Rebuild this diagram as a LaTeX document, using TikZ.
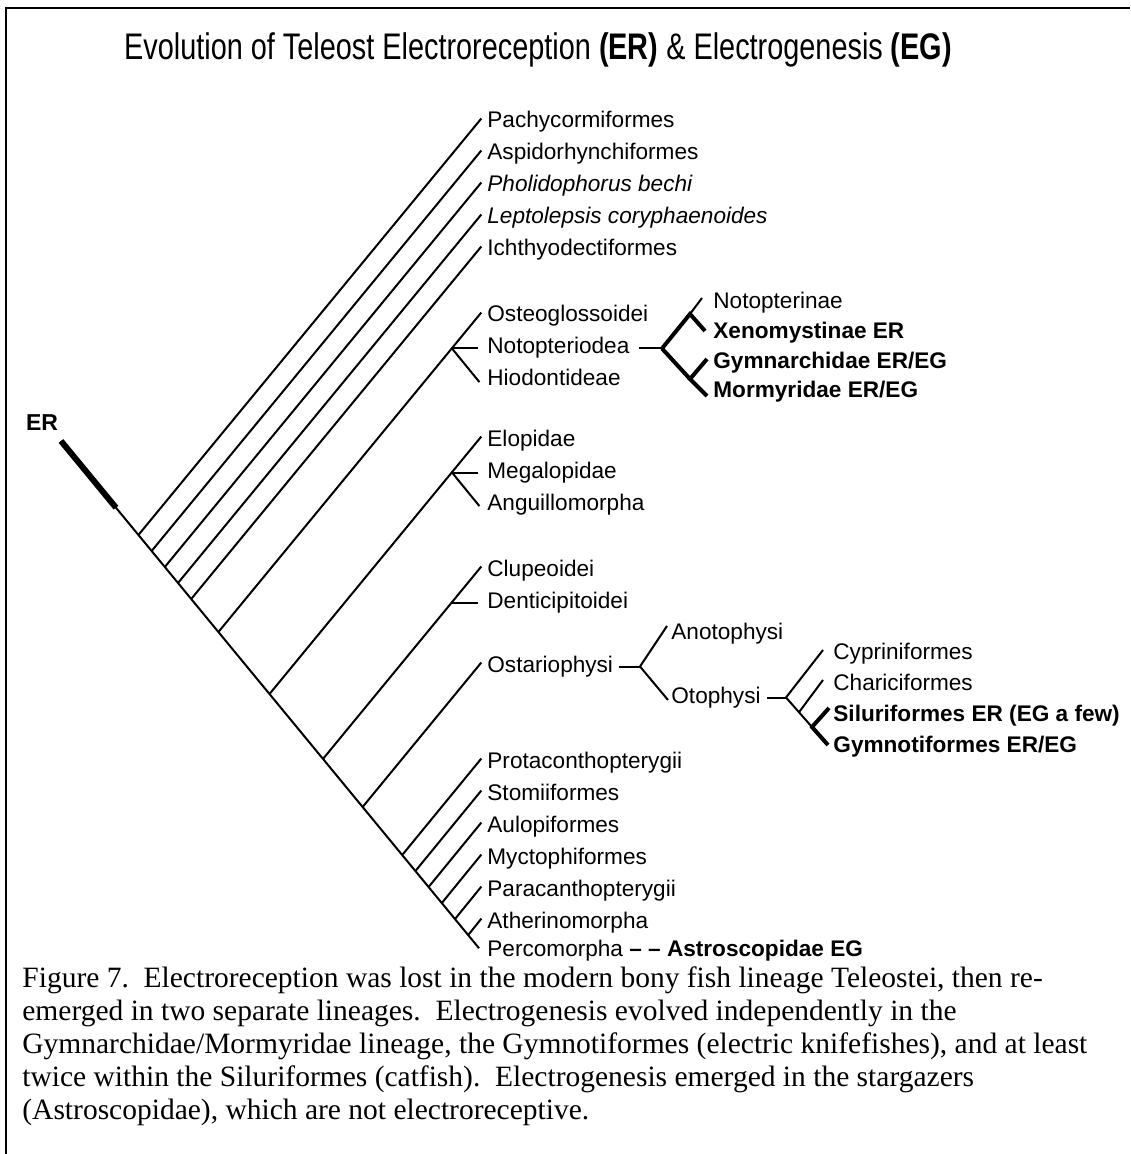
\documentclass[tikz,border=0pt]{standalone}
\usepackage{fontspec}
\setmainfont{Liberation Serif}
\setsansfont{Liberation Sans}
\newfontfamily\headfont[FakeStretch=0.78]{Liberation Sans}

\begin{document}
\begin{tikzpicture}[x=0.5pt,y=-0.5pt,
	taxon/.style={anchor=west,inner sep=0pt,text height=8pt,text depth=2.5pt,
	font=\sffamily\fontsize{11.3}{13}\selectfont},
	hit/.style={taxon,font=\sffamily\bfseries\fontsize{11.3}{13}\selectfont},
	twig/.style={line width=1pt,shorten >=4.5pt},
	droop/.style={line width=1pt,shorten >=6pt},
	fat/.style={line width=2pt}]
\useasboundingbox (0,0) rectangle (1130,1154);
\draw[line width=1.2pt] (6,1154) -- (6,8) -- (1130,8);
\node[font=\headfont\fontsize{18.5}{22}\selectfont] (title) at (538,50)
	{Evolution of Teleost Electroreception \textbf{(ER)} \& Electrogenesis \textbf{(EG)}};
\node[font=\sffamily\bfseries\fontsize{11.5}{13}\selectfont] (erlbl) at (42,423) {ER};

% trunk
\coordinate (er) at (61,441);
\coordinate (erend) at (116,507.7);
\coordinate (root) at (479,948.2);
\draw[line width=1pt] (er) -- (root);
\draw[line width=3pt] (er) -- (erend);

\coordinate (b1) at (138.4,535.0);
\coordinate (b2) at (151.6,551.0);
\coordinate (b3) at (164.8,567.0);
\coordinate (b4) at (178.0,583.0);
\coordinate (b5) at (191.2,599.0);
\coordinate (b6) at (218.4,632.0);
\coordinate (b7) at (269.5,694.0);
\coordinate (b8) at (323.0,758.9);
\coordinate (b9) at (362.6,807.0);
\coordinate (b10) at (402.2,855.0);
\coordinate (b11) at (415.4,871.0);
\coordinate (b12) at (428.6,887.0);
\coordinate (b13) at (441.8,903.0);
\coordinate (b14) at (455.0,919.0);
\coordinate (b15) at (468.2,935.0);
\coordinate (j1) at (452,348.5);
\coordinate (j2) at (452,472.5);
\coordinate (j3) at (452,602.5);

% taxa
\node[taxon] (pachy) at (487,122.5) {Pachycormiformes};
\node[taxon] (aspido) at (487,154.5) {Aspidorhynchiformes};
\node[taxon] (pholido) at (487,186.5) {\itshape Pholidophorus bechi};
\node[taxon] (lepto) at (487,218.5) {\itshape Leptolepsis coryphaenoides};
\node[taxon] (ichthyo) at (487,250.5) {Ichthyodectiformes};
\node[taxon] (osteo) at (487,316.5) {Osteoglossoidei};
\node[taxon] (noto) at (487,348.5) {Notopteriodea};
\node[taxon] (hiodon) at (487,380.5) {Hiodontideae};
\node[taxon] (elop) at (487,440.5) {Elopidae};
\node[taxon] (megalo) at (487,472.5) {Megalopidae};
\node[taxon] (anguil) at (487,504.5) {Anguillomorpha};
\node[taxon] (clupeo) at (487,570.5) {Clupeoidei};
\node[taxon] (dentic) at (487,602.5) {Denticipitoidei};
\node[taxon] (ostario) at (487,666.5) {Ostariophysi};
\node[taxon] (protac) at (487,762.5) {Protaconthopterygii};
\node[taxon] (stomi) at (487,794.5) {Stomiiformes};
\node[taxon] (aulopi) at (487,826.5) {Aulopiformes};
\node[taxon] (mycto) at (487,858.5) {Myctophiformes};
\node[taxon] (paracan) at (487,890.5) {Paracanthopterygii};
\node[taxon] (atherino) at (487,922.5) {Atherinomorpha};
\node[taxon,text depth=1pt] (perco) at (487,949) {Percomorpha \textbf{-- -- Astroscopidae EG}};

\draw[twig] (b1) -- (pachy.north west);
\draw[twig] (b2) -- (aspido.north west);
\draw[twig] (b3) -- (pholido.north west);
\draw[twig] (b4) -- (lepto.north west);
\draw[twig] (b5) -- (ichthyo.north west);
\draw[twig] (b6) -- (osteo.north west);
\draw[twig] (j1) -- (noto.west);
\draw[droop] (j1) -- (hiodon.south west);
\draw[twig] (b7) -- (elop.north west);
\draw[twig] (j2) -- (megalo.west);
\draw[droop] (j2) -- (anguil.south west);
\draw[twig] (b8) -- (clupeo.north west);
\draw[twig] (j3) -- (dentic.west);
\draw[twig] (b9) -- (ostario.north west);
\draw[twig] (b10) -- (protac.north west);
\draw[twig] (b11) -- (stomi.north west);
\draw[twig] (b12) -- (aulopi.north west);
\draw[twig] (b13) -- (mycto.north west);
\draw[twig] (b14) -- (paracan.north west);
\draw[twig] (b15) -- (atherino.north west);

% Notopteriodea
\node[taxon] (notopt) at (713,303.5) {Notopterinae};
\node[hit] (xeno) at (713,333.5) {Xenomystinae ER};
\node[hit] (gymnar) at (713,363.5) {Gymnarchidae ER/EG};
\node[hit] (mormy) at (713,392.5) {Mormyridae ER/EG};
\coordinate (v1) at (662,348.5);
\coordinate (u1) at (690,314);
\coordinate (l1) at (690,379);
\draw[line width=1pt,shorten <=4.5pt] (noto.east) -- (v1);
\draw[line width=1pt] (u1) -- ([shift={(-11,-5.5)}]notopt.west);
\draw[fat] (v1) -- (u1) -- ([shift={(-8,-2.5)}]xeno.west);
\draw[fat] (v1) -- (l1);
\draw[fat] ([shift={(-6,-4.5)}]gymnar.west) -- (l1) -- ([shift={(-6,3.5)}]mormy.west);

% Ostariophysi
\node[taxon] (anoto) at (671,633.5) {Anotophysi};
\node[taxon] (otoph) at (671,697.5) {Otophysi};
\node[taxon] (cyprin) at (833,653.5) {Cypriniformes};
\node[taxon] (charic) at (833,684.5) {Chariciformes};
\node[hit] (silur) at (833,715.5) {Siluriformes ER (EG a few)};
\node[hit] (gymnot) at (833,746.5) {Gymnotiformes ER/EG};
\coordinate (o1) at (640,666.5);
\coordinate (o2) at (786,697.5);
\coordinate (s1) at (812,727);
\coordinate (c1) at (799,712.2);
\draw[line width=1pt,shorten <=3pt] (ostario.east) -- (o1);
\draw[line width=1pt] ([shift={(-4,-7.5)}]anoto.west) -- (o1) -- ([shift={(-3,2.5)}]otoph.west);
\draw[line width=1pt,shorten <=3pt] (otoph.east) -- (o2);
\draw[line width=1pt] ([shift={(-10,-3.5)}]cyprin.west) -- (o2) -- (s1);
\draw[line width=1pt] (c1) -- ([shift={(-10,-4.5)}]charic.west);
\draw[fat] ([shift={(-4,-7.5)}]silur.west) -- (s1) -- ([shift={(-5,-1.5)}]gymnot.west);

\node[anchor=north west,inner sep=0pt,align=left,font=\fontsize{14.75}{16.5}\selectfont] (caption) at (22,966)
	{Figure 7.~~Electroreception was lost in the modern bony fish lineage Teleostei, then re-\\
	emerged in two separate lineages.~~Electrogenesis evolved independently in the\\
	Gymnarchidae/Mormyridae lineage, the Gymnotiformes (electric knifefishes), and at least\\
	twice within the Siluriformes (catfish).~~Electrogenesis emerged in the stargazers\\
	(Astroscopidae), which are not electroreceptive.};
\end{tikzpicture}
\end{document}
